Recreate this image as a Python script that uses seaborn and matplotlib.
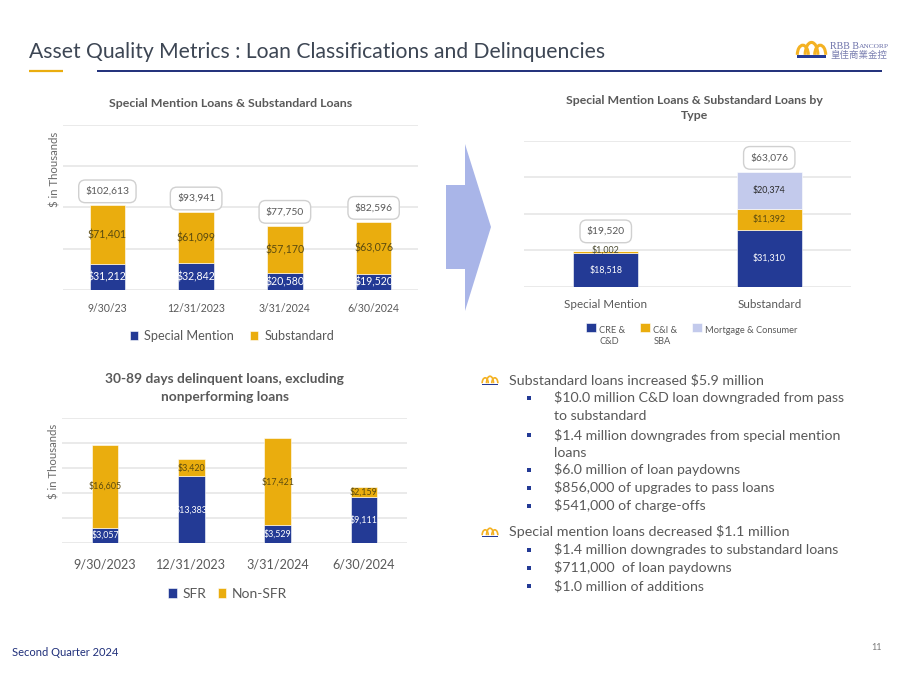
import matplotlib
matplotlib.use("Agg")
import matplotlib.pyplot as plt
import numpy as np
import seaborn as sns
from matplotlib.patches import Arc, Polygon, Rectangle

NAVY = "#233A95"
GOLD = "#EAAD0E"
LAVENDER = "#C3CAEC"
ARROW = "#A9B5E8"
GRAY = "#595959"
GRID = "#E4E4E4"

# top left chart
quarters = ["9/30/23", "12/31/2023", "3/31/2024", "6/30/2024"]
special_mention = [31212, 32842, 20580, 19520]
substandard = [71401, 61099, 57170, 63076]
class_totals = [102613, 93941, 77750, 82596]

# bottom left chart
quarters_long = ["9/30/2023", "12/31/2023", "3/31/2024", "6/30/2024"]
sfr = [3057, 13383, 3529, 9111]
non_sfr = [16605, 3420, 17421, 2159]

# top right chart
loan_groups = ["Special Mention", "Substandard"]
cre_cd = [18518, 31310]
ci_sba = [1002, 11392]
mortgage = [0, 20374]
type_totals = [19520, 63076]

# commentary, (indent level, text, y pixel)
notes = [
    (0, "Substandard loans increased $5.9 million", 380),
    (1, "$10.0 million C&D loan downgraded from pass", 398),
    (2, "to substandard", 416),
    (1, "$1.4 million downgrades from special mention", 435),
    (2, "loans", 453),
    (1, "$6.0 million of loan paydowns", 470),
    (1, "$856,000 of upgrades to pass loans", 488),
    (1, "$541,000 of charge-offs", 506),
    (0, "Special mention loans decreased $1.1 million", 532),
    (1, "$1.4 million downgrades to substandard loans", 550),
    (1, "$711,000  of loan paydowns", 568),
    (1, "$1.0 million of additions", 586),
]

sns.set_theme(style="white")
plt.rcParams["font.family"] = ["Lato", "DejaVu Sans"]

fig = plt.figure(figsize=(9, 6.75), dpi=100)

# full page layer in pixel coordinates for the slide furniture
page = fig.add_axes([0, 0, 1, 1], zorder=-1)
page.set_xlim(0, 900)
page.set_ylim(675, 0)
page.axis("off")


def chart_axes(left, top, right, bottom):
    ax = fig.add_axes([left / 900, 1 - bottom / 675, (right - left) / 900, (bottom - top) / 675])
    ax.patch.set_alpha(0)
    return ax


def money(values):
    return ["${:,}".format(v) if v else "" for v in values]


def stack_bars(ax, cats, series, colors, names, width):
    bottom = np.zeros(len(cats))
    for vals, col, name in zip(series, colors, names):
        sns.barplot(x=cats, y=vals, bottom=bottom, color=col, saturation=1, width=width,
                    errorbar=None, label=name, linewidth=0.4, ax=ax)
        bottom = bottom + np.array(vals)
    return bottom


def style_axes(ax, ymax, step, tick_size, pad):
    ax.set_ylim(0, ymax)
    ax.set_yticks(np.arange(0, ymax + 1, step))
    ax.grid(axis="y", color=GRID, linewidth=1.1)
    ax.grid(axis="x", visible=False)
    ax.set_axisbelow(True)
    ax.tick_params(axis="both", length=0, labelleft=False, labelcolor=GRAY, labelsize=tick_size)
    ax.tick_params(axis="x", pad=pad)
    ax.set_xlabel("")
    ax.set_ylabel("")
    sns.despine(ax=ax, left=True, bottom=True)


def total_boxes(ax, totals, tops, size, offsets):
    for i, (total, top) in enumerate(zip(totals, tops)):
        ax.annotate("${:,}".format(total), (i, top), xytext=(0, offsets[i]), textcoords="offset pixels",
                    ha="center", va="center", color=GRAY, fontsize=size,
                    bbox=dict(boxstyle="round,pad=0.65", fc="white", ec="#D0D0D0", lw=1))


def crown(x, y, w, h, lw):
    # little logo crown, x and y are the top left corner
    for cx, aw, ah in [(0.2, 0.38, 1.2), (0.5, 0.44, 1.55), (0.8, 0.38, 1.2)]:
        page.add_patch(Arc((x + cx * w, y + h * 0.80), aw * w, h * ah, theta1=180, theta2=360,
                           color="#F4B223", lw=lw))
    page.add_patch(Rectangle((x, y + h * 0.84), w, h * 0.16, color=NAVY, lw=0))


# top left
ax1 = chart_axes(63, 125, 418, 290)
tops1 = stack_bars(ax1, quarters, [special_mention, substandard], [NAVY, GOLD],
                   ["Special Mention", "Substandard"], 0.4)
style_axes(ax1, 200000, 50000, 7.6, 9.5)
ax1.bar_label(ax1.containers[0], labels=money(special_mention), label_type="center", color="white", fontsize=7.6)
ax1.bar_label(ax1.containers[1], labels=money(substandard), label_type="center", color="#5A4A10", fontsize=7.6)
total_boxes(ax1, class_totals, tops1, 7.4, [14, 14, 14, 14])
ax1.set_title("Special Mention Loans & Substandard Loans", x=0.472, y=1, pad=13, fontsize=8.9,
              fontweight="bold", color=GRAY)
ax1.legend(loc="upper center", bbox_to_anchor=(0.476, -0.17), ncol=2, frameon=False, fontsize=9.2,
           labelcolor=GRAY, handlelength=0.65, handleheight=0.7, handletextpad=0.5, columnspacing=1.2)

# bottom left
ax2 = chart_axes(62, 418, 407, 543)
stack_bars(ax2, quarters_long, [sfr, non_sfr], [NAVY, GOLD], ["SFR", "Non-SFR"], 0.31)
style_axes(ax2, 25000, 5000, 9.1, 11)
ax2.bar_label(ax2.containers[0], labels=money(sfr), label_type="center", color="white", fontsize=6.4)
ax2.bar_label(ax2.containers[1], labels=money(non_sfr), label_type="center", color="#5A4A10", fontsize=6.4)
ax2.set_title("30-89 days delinquent loans, excluding\nnonperforming loans", x=0.472, y=1, pad=12.5,
              fontsize=9.9, fontweight="bold", color=GRAY, linespacing=1.6)
ax2.legend(loc="upper center", bbox_to_anchor=(0.48, -0.26), ncol=2, frameon=False, fontsize=10,
           labelcolor=GRAY, handlelength=0.6, handleheight=0.75, handletextpad=0.4, columnspacing=0.86)

# top right
ax3 = chart_axes(524, 141, 851, 287)
tops3 = stack_bars(ax3, loan_groups, [cre_cd, ci_sba, mortgage], [NAVY, GOLD, LAVENDER],
                   ["CRE &\nC&D", "C&I &\nSBA", "Mortgage & Consumer\n "], 0.4)
style_axes(ax3, 80000, 20000, 8.4, 8.5)
ax3.bar_label(ax3.containers[0], labels=money(cre_cd), label_type="center", color="white", fontsize=6.4)
ax3.bar_label(ax3.containers[1], labels=["", money(ci_sba)[1]], label_type="center", color="#5A4A10", fontsize=6.4)
ax3.bar_label(ax3.containers[2], labels=money(mortgage), label_type="center", color="#2B2B2B", fontsize=6.4)
ax3.annotate(money(ci_sba)[0], (0, tops3[0]), xytext=(0, 1), textcoords="offset pixels", ha="center",
             va="center", color="#4A4A30", fontsize=6.4)
total_boxes(ax3, type_totals, tops3, 7.4, [20, 14])
ax3.set_title("Special Mention Loans & Substandard Loans by\nType", x=0.52, y=1, pad=16, fontsize=8.8,
              fontweight="bold", color=GRAY, linespacing=1.4)
leg3 = ax3.legend(loc="upper left", bbox_to_anchor=(0.165, -0.21), ncol=3, frameon=False, fontsize=6.7,
                  labelcolor=GRAY, handlelength=1.0, handleheight=1.0, handletextpad=0.4, columnspacing=1.6,
                  labelspacing=0)
for handle in leg3.get_patches():
    handle.set_y(handle.get_y() + 6.5)
for label in leg3.get_texts():
    label.set_linespacing(1.35)

# axis captions
page.text(55, 169, "$ in Thousands", rotation=90, ha="center", va="center", color="#6A6A6A", fontsize=8.2)
page.text(54, 461, "$ in Thousands", rotation=90, ha="center", va="center", color="#6A6A6A", fontsize=8.2)

# slide title and rule
page.text(29, 52, "Asset Quality Metrics : Loan Classifications and Delinquencies", ha="left", va="center",
          color="#3D4654", fontsize=15.2)
page.plot([29, 63], [71, 71], color=GOLD, lw=1.6, solid_capstyle="butt")
page.plot([97, 882], [71, 71], color="#1F2F7A", lw=1.4, solid_capstyle="butt")

# logo
crown(797, 42, 29, 16, 2.2)
page.text(830, 46.5, "RBB B", family="Liberation Serif", fontsize=7.2, color="#6A6FA8", ha="left", va="center")
page.text(858.5, 47, "ANCORP", family="Liberation Serif", fontsize=5.4, color="#6A6FA8", ha="left", va="center")
page.text(830, 55, "皇佳商業金控", family="Noto Sans CJK TC", fontsize=6.8, color="#7A7FB0", ha="left", va="center")

# arrow between the charts
page.add_patch(Polygon([(446, 185), (465, 185), (465, 144), (491, 227), (465, 311), (465, 269), (446, 269)],
                       closed=True, fc=ARROW, ec="none"))

# commentary
for level, line, y in notes:
    if level == 0:
        crown(482, y - 4, 16, 9, 1.2)
        page.text(509, y, line, ha="left", va="center", color=GRAY, fontsize=10.3)
    else:
        if level == 1:
            page.add_patch(Rectangle((527, y - 2), 4, 4, color=NAVY, lw=0))
        page.text(554, y, line, ha="left", va="center", color=GRAY, fontsize=10.2)

# footer
page.text(12, 652, "Second Quarter 2024", ha="left", va="center", color="#1F2F7A", fontsize=8)
page.text(877, 647, "11", ha="center", va="center", color="#7A7A7A", fontsize=6.5)

fig.savefig("out.png", dpi=100)
